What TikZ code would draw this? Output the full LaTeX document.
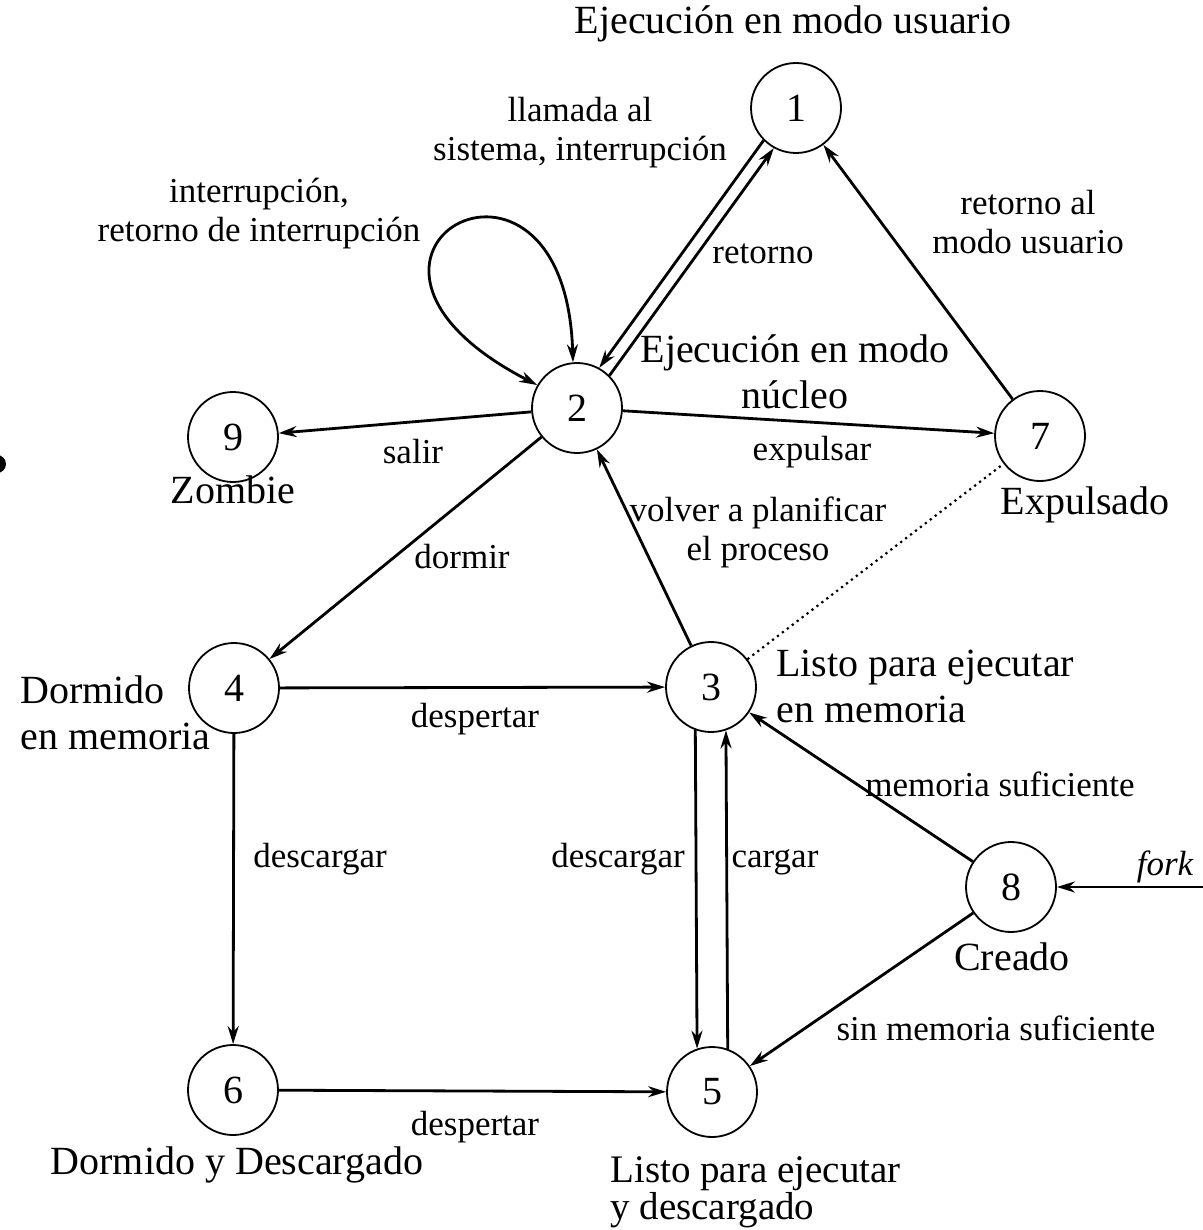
\documentclass[tikz,border=0pt]{standalone}
\usepackage{fontspec}
\setmainfont{Liberation Serif}
\usetikzlibrary{arrows.meta,calc}
\newcommand\stfont{\fontsize{20}{23}\selectfont}
\newcommand\edfont{\fontsize{17.5}{19.5}\selectfont}
\begin{document}
\begin{tikzpicture}[x=0.5pt,y=-0.5pt,
  state/.style={circle,draw,line width=0.9pt,minimum size=45pt,inner sep=0pt,font=\stfont},
  stlabel/.style={inner sep=0pt,font=\stfont},
  edlabel/.style={inner sep=0pt,font=\edfont},
  edone/.style={edlabel,text height=1.5ex,text depth=0.45ex},
  tip/.tip={Stealth[length=9pt,width=5.5pt]},
  arr/.style={line width=1.4pt,-tip},
  darr/.style={line width=1.4pt,tip-tip},
  weak/.style={line width=1.1pt,dotted}]
\useasboundingbox[fill=white] (0,0) rectangle (1203,1230);

% states
\node[state] (n1) at (796,108) {1};
\node[state] (n2) at (577,408) {2};
\node[state] (n9) at (233,437) {9};
\node[state] (n7) at (1040,436) {7};
\node[state] (n4) at (234,688) {4};
\node[state] (n3) at (711,687) {3};
\node[state] (n8) at (1011,887) {8};
\node[state] (n6) at (233,1090) {6};
\node[state] (n5) at (712,1092) {5};
\coordinate (fk) at (1215,887);

% state names
\node[stlabel] (l1) at (793,24) {Ejecución en modo usuario};
\node[stlabel,align=center] (l2) at (795,372) {Ejecución en modo\\núcleo};
\node[stlabel] (l9) at (233,490) {Zombie};
\node[stlabel] (l7) at (1085,505) {Expulsado};
\node[stlabel,align=left,anchor=west] (l4) at (20,713) {Dormido\\en memoria};
\node[stlabel,align=left,anchor=west] (l3) at (776,686) {Listo para ejecutar\\en memoria};
\node[stlabel] (l8) at (1012,957) {Creado};
\node[stlabel] (l6) at (237,1165) {Dormido y Descargado};
\node[stlabel,align=left,anchor=west,font=\fontsize{19.5}{17.5}\selectfont] (l5) at (610,1192) {Listo para ejecutar\\y descargado};

% transitions
\draw[arr] (n1.225.9) -- (n2.61.9);
\draw[arr] (n2.45.9) -- (n1.241.9);
\draw[darr] (n2.150) .. controls (285,255) and (565,100) .. (n2.95);
\draw[arr] (n2) -- (n9);
\draw[arr] (n2) -- (n7);
\draw[arr] (n7) -- (n1);
\draw[arr] (n2) -- (n4);
\draw[arr] (n3) -- (n2);
\draw[weak] (n3) -- (n7);
\draw[arr] (n4) -- (n3);
\draw[arr] (n4) -- (n6);
\draw[arr] (n3.250.5) -- (n5.109.5);
\draw[arr] (n5.70.5) -- (n3.289.5);
\draw[arr] (n8) -- (n3);
\draw[arr] (n8) -- (n5);
\draw[arr] (fk) -- (n8);
\draw[arr] (n6) -- (n5);

% transition labels
\node[edlabel,align=center] (t12) at (580,133) {llamada al\\sistema, interrupción};
\node[edone] (t21) at (763,259) {retorno};
\node[edlabel,align=center] (t22) at (259,214) {interrupción,\\retorno de interrupción};
\node[edone] (t29) at (413,459) {salir};
\node[edone] (t27) at (812,456) {expulsar};
\node[edlabel,align=center] (t71) at (1028,222) {retorno al\\modo usuario};
\node[edone] (t24) at (462,564) {dormir};
\node[edlabel,align=center] (t32) at (758,532) {volver a planificar\\el proceso};
\node[edone] (t43) at (475,723) {despertar};
\node[edone] (t46) at (320,863) {descargar};
\node[edone] (t35) at (618,863) {descargar};
\node[edone] (t53) at (775,863) {cargar};
\node[edone] (t83) at (1000,792) {memoria suficiente};
\node[edone] (t85) at (996,1036) {sin memoria suficiente};
\node[edone,font=\edfont\itshape] (tfk) at (1165,871) {fork};
\node[edone] (t65) at (475,1131) {despertar};

% mark at the left edge
\fill (-3,464) circle (9);
\end{tikzpicture}
\end{document}
